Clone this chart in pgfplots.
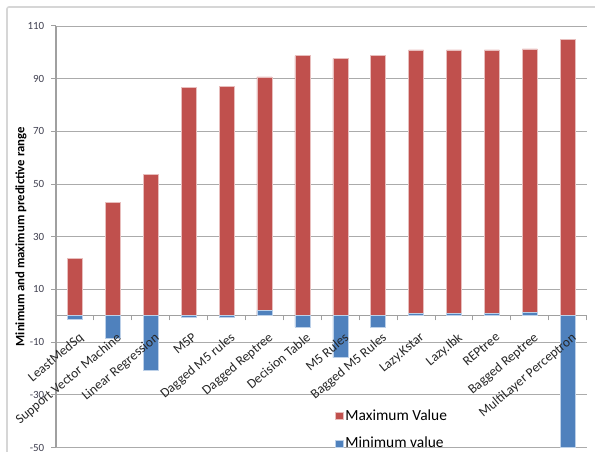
\documentclass[border=0pt]{standalone}
\usepackage{pgfplots}
\pgfplotsset{compat=1.18}
\usepackage{fontspec}
\setmainfont{Carlito}

\definecolor{maxred}{HTML}{C0504D}
\definecolor{maxedge}{HTML}{E8BEBD}
\definecolor{minblue}{HTML}{4F81BD}
\definecolor{minedge}{HTML}{BCD0E8}
\definecolor{gridgray}{HTML}{ABABAB}
\definecolor{axisgray}{HTML}{A0A0A0}
\definecolor{framegray}{HTML}{D6D6D6}
\definecolor{ticktext}{HTML}{404050}

\tikzset{catlabel/.style={font=\fontsize{13.5}{15}\selectfont, text=black!85,
  inner sep=0pt, anchor=north east, xshift=3bp, yshift=-16bp, rotate=40}}

\begin{document}
\begin{tikzpicture}
\useasboundingbox (0bp,0bp) rectangle (595bp,452bp);
% chart area border
\draw[framegray, line width=1.6bp, rounded corners=2bp]
  (7bp,-20bp) -- (7bp,445bp) -- (620bp,445bp);

\begin{axis}[
  at={(56bp,4.5bp)}, anchor=south west,
  scale only axis, width=530.7bp, height=421.5bp,
  xmin=-0.5, xmax=13.5, ymin=-50, ymax=110,
  enlargelimits=false, clip=false,
  axis x line=middle, axis y line=left,
  axis line style={-, draw=axisgray, line width=1.1bp},
  ytick={-50,-30,...,110},
  yticklabels={-50,-30,-10,10,30,50,70,90,110},
  ymajorgrids, grid style={gridgray, line width=0.9bp},
  tick align=outside,
  major tick length=4.5bp,
  tick style={draw=axisgray, line width=1bp},
  xtick={-0.5,0.5,...,13.5},
  xticklabels={},
  yticklabel style={font=\fontsize{11}{13}\selectfont, text=ticktext,
    inner sep=0pt, anchor=east, xshift=-7bp},
  ylabel={Minimum and maximum predictive range},
  ylabel style={font=\fontsize{12.8}{15}\selectfont\bfseries, anchor=center,
    at={(axis description cs:-0.066,0.5)}},
  ybar, bar width=15bp,
  legend style={at={(axis description cs:0.526,0.094)}, anchor=north west,
    draw=none, fill=none, inner sep=0pt,
    font=\fontsize{15.5}{18}\selectfont, row sep=11bp,
    /tikz/every even column/.append style={column sep=5.5bp}},
  legend cell align=left,
  legend image code/.code={\fill[#1] (0bp,-3.5bp) rectangle (7.5bp,3.5bp);},
]
% upper end of each method's predictive range
\addplot[bar shift=0pt, fill=maxred, draw=maxedge, line width=0.6bp]
  coordinates {(0,21.7) (1,42.9) (2,53.8) (3,86.7) (4,87.1) (5,90.7) (6,98.7)
    (7,97.6) (8,98.7) (9,100.9) (10,100.9) (11,100.9) (12,101.3) (13,105.0)};
\addlegendentry{Maximum Value}
% lower end of each method's predictive range
\addplot[bar shift=0pt, fill=minblue, draw=minedge, line width=0.6bp]
  coordinates {(0,-1.3) (1,-8.6) (2,-20.7) (3,-0.5) (4,-0.5) (5,2.0) (6,-4.3)
    (7,-15.9) (8,-4.3) (9,0.8) (10,0.8) (11,0.8) (12,1.2) (13,-50)};
\addlegendentry{Minimum value}
% method names, set over the bars below the zero line
\node[catlabel] at (axis cs:0,0)  {LeastMedSq};
\node[catlabel] at (axis cs:1,0)  {Support Vector Machine};
\node[catlabel] at (axis cs:2,0)  {Linear Regression};
\node[catlabel] at (axis cs:3,0)  {M5P};
\node[catlabel] at (axis cs:4,0)  {Dagged M5 rules};
\node[catlabel] at (axis cs:5,0)  {Dagged Reptree};
\node[catlabel] at (axis cs:6,0)  {Decision Table};
\node[catlabel] at (axis cs:7,0)  {M5 Rules};
\node[catlabel] at (axis cs:8,0)  {Bagged M5 Rules};
\node[catlabel] at (axis cs:9,0)  {Lazy.Kstar};
\node[catlabel] at (axis cs:10,0) {Lazy.Ibk};
\node[catlabel] at (axis cs:11,0) {REPtree};
\node[catlabel] at (axis cs:12,0) {Bagged Reptree};
\node[catlabel] at (axis cs:13,0) {MultiLayer Perceptron};
\end{axis}
\end{tikzpicture}
\end{document}
